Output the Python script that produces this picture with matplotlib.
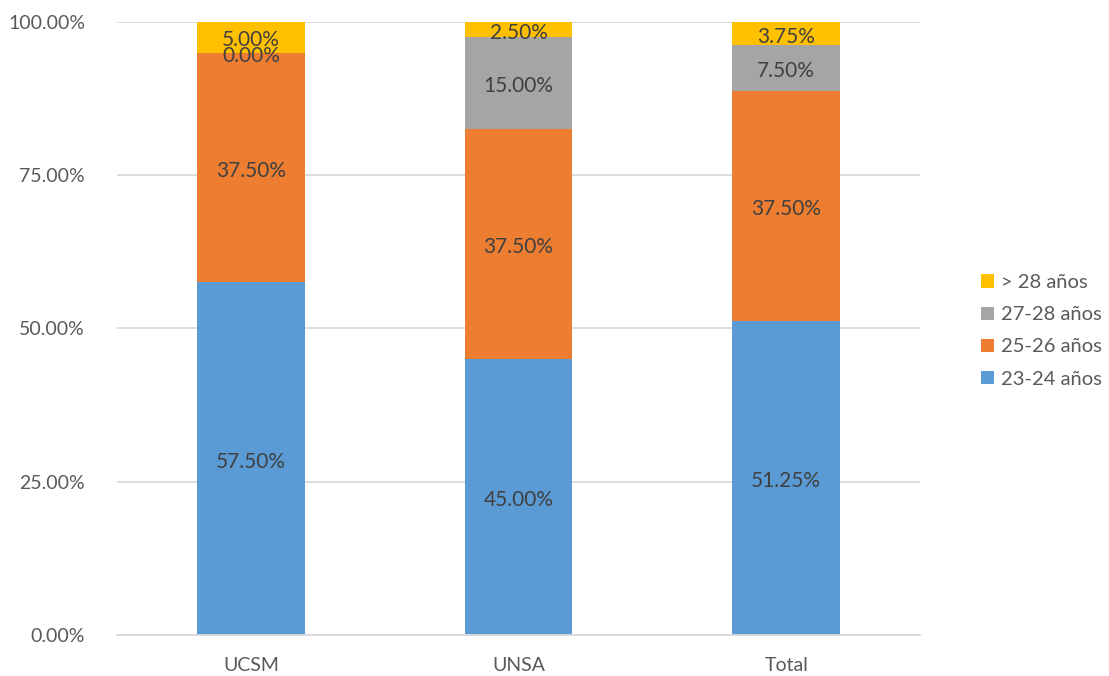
import matplotlib.pyplot as plt
import numpy as np

plt.rcParams["font.family"] = ["Lato", "DejaVu Sans"]

categorias = ["UCSM", "UNSA", "Total"]
series = ["23-24 años", "25-26 años", "27-28 años", "> 28 años"]
v_23_24 = [57.50, 45.00, 51.25]
v_25_26 = [37.50, 37.50, 37.50]
v_27_28 = [0.00, 15.00, 7.50]
v_28_mas = [5.00, 2.50, 3.75]
colores = ["#5B9BD5", "#ED7D31", "#A5A5A5", "#FFC000"]

valores = [v_23_24, v_25_26, v_27_28, v_28_mas]

fig = plt.figure(figsize=(11.09, 6.76), dpi=100, facecolor="white")
ax = fig.add_axes([0.1055, 0.0607, 0.7241, 0.9068])

x = np.arange(len(categorias))
base = np.zeros(len(categorias))
handles = []
for nombre, vals, color in zip(series, valores, colores):
    vals = np.array(vals)
    b = ax.bar(x, vals, 0.403, bottom=base, color=color, label=nombre, zorder=2)
    handles.append(b)
    for xi, yi, v in zip(x, base, vals):
        ax.text(xi, yi + v / 2 - 0.5, f"{v:.2f}%", ha="center", va="center",
                fontsize=15, color="#404040", zorder=3)
    base += vals

ax.set_xlim(-0.5, 2.5)
ax.set_ylim(0, 100)
ax.set_yticks([0, 25, 50, 75, 100])
ax.set_yticklabels([f"{t:.2f}%" for t in [0, 25, 50, 75, 100]])
ax.set_xticks(x)
ax.set_xticklabels(categorias)
ax.tick_params(axis="both", length=0, labelsize=14, labelcolor="#595959")
ax.tick_params(axis="y", pad=23)
ax.tick_params(axis="x", pad=16)
ax.grid(axis="y", color="#D9D9D9", linewidth=1.3, zorder=0)
for s in ["top", "right", "left"]:
    ax.spines[s].set_visible(False)
ax.spines["bottom"].set_color("#D9D9D9")
ax.spines["bottom"].set_linewidth(1.3)

leg = ax.legend(handles[::-1], series[::-1], loc="center left",
                bbox_to_anchor=(1.063, 0.496), frameon=False, fontsize=14.5,
                handlelength=0.65, handleheight=0.65, handletextpad=0.35,
                labelspacing=0.75, borderpad=0)
for t in leg.get_texts():
    t.set_color("#595959")

fig.savefig("out.png", dpi=100, facecolor="white")
